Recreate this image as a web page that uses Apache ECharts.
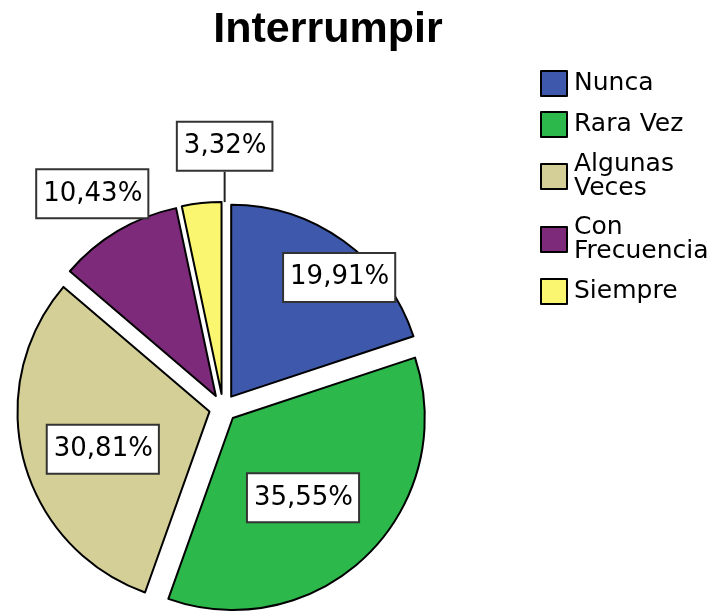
<!DOCTYPE html>
<html>
<head>
    <meta charset="UTF-8">
    <title>Interrumpir</title>
    <script src="https://cdn.jsdelivr.net/npm/echarts@6/dist/echarts.min.js"></script>
    <style>
        html, body {margin: 0; padding: 0; background: #fff;}
    </style>
</head>
<body>
<div id="pieChart" style="width: 725px;height:612px;"></div>

<script type="text/javascript">
    // categorias y porcentajes
    var categorias = ['Nunca', 'Rara Vez', 'Algunas Veces', 'Con Frecuencia', 'Siempre'];
    var leyenda = ['Nunca', 'Rara Vez', 'Algunas\nVeces', 'Con\nFrecuencia', 'Siempre'];
    var porcentajes = [19.91, 35.55, 30.81, 10.43, 3.32];
    var colores = ['#3e58ab', '#2db84b', '#d4cf97', '#7d2a7a', '#faf66f'];

    // desplazamiento de cada etiqueta
    var desplaza = [[50, -39], [1, 9], [-11, 12], [-73, -117], [78, -27]];

    var centro = [223, 408];
    var radio = 192;
    var separa = 14;

    var pieChart = echarts.init(document.getElementById('pieChart'));

    var datos = [];
    for (var i = 0; i < categorias.length; i++) {
        var item = {
            name: categorias[i],
            value: porcentajes[i],
            selected: true,
            itemStyle: {color: colores[i]}
        };
        if (i === 4) {
            item.label = {position: 'outside'};
            item.labelLine = {show: true, length: 30, length2: 0, lineStyle: {color: '#222', width: 2}};
        }
        datos.push(item);
    }

    // linea guia vertical de la etiqueta, desde el borde del sector hasta la caja
    // (coordenadas del sector sin separar, la linea se mueve junto con el)
    function lineaGuia(rect) {
        var lx = rect.x + rect.width / 2;
        var arriba = centro[1] - Math.sqrt(radio * radio - (lx - centro[0]) * (lx - centro[0]));
        var abajo = rect.y + rect.height;
        return [[lx, arriba], [lx, abajo], [lx, abajo]];
    }

    var option = {
        animation: false,
        title: {
            text: 'Interrumpir',
            left: 323,
            textAlign: 'center',
            top: 4,
            textStyle: {
                fontFamily: 'Liberation Sans',
                fontWeight: 'bold',
                fontSize: 43,
                color: '#000'
            }
        },
        legend: {
            orient: 'vertical',
            left: 535,
            top: 65,
            itemWidth: 26,
            itemHeight: 25,
            itemGap: 14,
            icon: 'rect',
            data: categorias,
            formatter: function (name) {
                return leyenda[categorias.indexOf(name)];
            },
            textStyle: {
                fontFamily: 'DejaVu Sans',
                fontSize: 25,
                lineHeight: 24,
                color: '#000',
                padding: [0, 0, 0, 2]
            }
        },
        series: [
            {
                name: 'Interrumpir',
                type: 'pie',
                center: centro,
                radius: radio,
                startAngle: 90,
                clockwise: true,
                selectedMode: 'multiple',
                selectedOffset: separa,
                emphasis: {disabled: true},
                select: {disabled: false, itemStyle: {borderColor: '#000', borderWidth: 2}},
                itemStyle: {
                    borderColor: '#000',
                    borderWidth: 2
                },
                label: {
                    position: 'inside',
                    formatter: function (p) {
                        return p.value.toFixed(2).replace('.', ',') + '%';
                    },
                    fontFamily: 'DejaVu Sans',
                    fontSize: 26,
                    color: '#000',
                    backgroundColor: '#fff',
                    borderColor: '#333',
                    borderWidth: 2,
                    padding: [12, 5, 9, 6]
                },
                labelLine: {show: false},
                labelLayout: function (params) {
                    var d = desplaza[params.dataIndex];
                    var res = {dx: d[0], dy: d[1]};
                    if (params.dataIndex === 4) {
                        var r = params.labelRect;
                        res.labelLinePoints = lineaGuia({
                            x: r.x + d[0], y: r.y + d[1], width: r.width, height: r.height
                        });
                    }
                    return res;
                },
                data: datos
            }
        ]
    };

    pieChart.setOption(option);
</script>
</body>
</html>
